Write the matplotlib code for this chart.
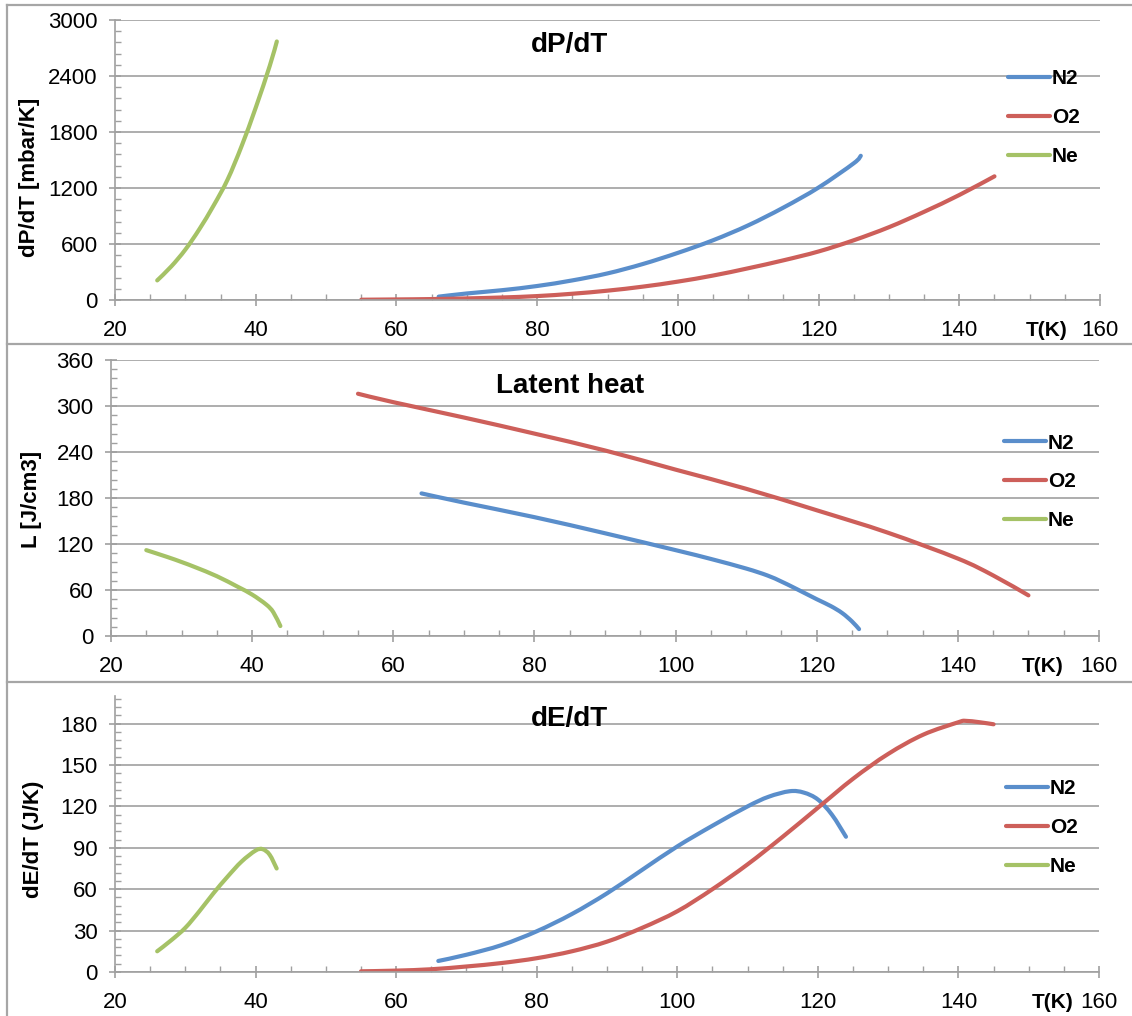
"""Saturation properties of N2, O2 and Ne vs temperature: dP/dT, latent heat, dE/dT."""

import matplotlib

matplotlib.use("Agg")
import matplotlib.pyplot as plt
import numpy as np
from matplotlib.lines import Line2D
from matplotlib.patches import PathPatch
from matplotlib.path import Path
from matplotlib.ticker import MultipleLocator

plt.rcParams["font.family"] = ["Liberation Sans", "DejaVu Sans"]

W, H = 1132, 1016

species = ["N2", "O2", "Ne"]
colors = ["#5A8ECB", "#CD5F5A", "#A5C266"]
x_ticks = [20, 40, 60, 80, 100, 120, 140, 160]

# dP/dT  [mbar/K]
dpdt_n2_t = [66, 70, 75, 80, 85, 90, 95, 100, 105, 110, 115, 120, 125, 126]
dpdt_n2 = [36, 70, 105, 150, 210, 285, 385, 505, 640, 800, 990, 1205, 1465, 1545]
dpdt_o2_t = [55, 60, 65, 70, 75, 80, 85, 90, 95, 100, 105, 110, 115, 120, 125,
             130, 135, 140, 145]
dpdt_o2 = [3, 6, 10, 17, 27, 42, 67, 100, 143, 197, 262, 340, 425, 520, 640,
           780, 945, 1125, 1325]
dpdt_ne_t = [26, 28, 30, 32, 34, 36, 38, 40, 42, 43]
dpdt_ne = [210, 360, 540, 760, 1010, 1290, 1650, 2060, 2510, 2770]

# latent heat  [J/cm3]
lat_n2_t = [64, 70, 80, 90, 100, 105, 110, 113, 115, 117, 120, 122, 123.6, 125,
            126]
lat_n2 = [186, 174, 155, 134, 112, 100.5, 88, 79, 71, 62, 48, 39, 30, 19, 9]
lat_o2_t = [55, 60, 70, 80, 90, 100, 110, 120, 130, 140, 145, 150]
lat_o2 = [316, 305, 285, 264, 242, 217, 192, 164, 135, 101, 79, 53]
lat_ne_t = [25, 28, 30, 32, 35, 38, 40, 42, 43, 44]
lat_ne = [112, 103, 96.5, 89.5, 78, 64, 54, 41, 31, 13]

# dE/dT  [J/K]
dedt_n2_t = [66, 70, 75, 80, 85, 90, 95, 100, 105, 110, 113, 116, 118, 120,
             122, 124]
dedt_n2 = [8, 12.5, 19.5, 29.5, 42, 57, 74, 91, 106, 120, 127, 131, 130, 125,
           114, 98]
dedt_o2_t = [55, 60, 65, 70, 75, 80, 85, 90, 95, 100, 105, 110, 115, 120, 125,
             130, 135, 140, 141, 143, 145]
dedt_o2 = [0.5, 1, 2, 4, 6.5, 10, 15, 22, 32, 44, 60, 78, 98, 119, 140, 158,
           172, 181, 182, 181, 179.5]
dedt_ne_t = [26, 28, 30, 32, 34, 36, 38, 40, 41, 42, 43]
dedt_ne = [15, 23, 32, 44, 57, 69, 80, 88, 89, 85, 75]

GRID = "#A0A0A0"
FRAME = "#A6A6A6"
LW = 3.0


def px_rect(left, top, right, bottom):
    return [left / W, 1 - bottom / H, (right - left) / W, (bottom - top) / H]


def smooth_path(t, v):
    """Cubic Bezier path through the points (spreadsheet-style smoothed line)."""
    p = np.column_stack([t, v]).astype(float)
    ext = np.vstack([p[0], p, p[-1]])
    verts = [p[0]]
    codes = [Path.MOVETO]
    for i in range(len(p) - 1):
        c1 = ext[i + 1] + (ext[i + 2] - ext[i]) / 6.0
        c2 = ext[i + 2] - (ext[i + 3] - ext[i + 1]) / 6.0
        verts += [c1, c2, p[i + 1]]
        codes += [Path.CURVE4] * 3
    return Path(verts, codes)


panels = [
    dict(rect=px_rect(115, 20, 1100, 300), ylim=3000, ymajor=600, yminor=120,
         title="dP/dT", title_xy=(570, 45), ylabel="dP/dT [mbar/K]",
         ylabel_xy=(30, 177), tk_xy=(1047, 331), leg=(0.9066, 0.824),
         series=[(dpdt_n2_t, dpdt_n2), (dpdt_o2_t, dpdt_o2), (dpdt_ne_t, dpdt_ne)]),
    dict(rect=px_rect(111, 360, 1099, 636), ylim=360, ymajor=60, yminor=12,
         title="Latent heat", title_xy=(570, 386), ylabel="L [J/cm3]",
         ylabel_xy=(32, 499), tk_xy=(1043, 666), leg=(0.904, 0.733),
         series=[(lat_n2_t, lat_n2), (lat_o2_t, lat_o2), (lat_ne_t, lat_ne)]),
    dict(rect=px_rect(115, 696, 1099, 972), ylim=200, ymajor=30, yminor=6,
         title="dE/dT", title_xy=(569, 719), ylabel="dE/dT (J/K)",
         ylabel_xy=(33, 839), tk_xy=(1053, 1002), leg=(0.9055, 0.698),
         series=[(dedt_n2_t, dedt_n2), (dedt_o2_t, dedt_o2), (dedt_ne_t, dedt_ne)]),
]

fig = plt.figure(figsize=(W / 100, H / 100), dpi=100)

for p in panels:
    ax = fig.add_axes(p["rect"])
    handles = []
    for (t, v), name, c in zip(p["series"], species, colors):
        patch = PathPatch(smooth_path(t, v), fill=False, edgecolor=c, lw=LW,
                          capstyle="round", joinstyle="round",
                          transform=ax.transData)
        ax.add_patch(patch)
        handles.append(Line2D([], [], color=c, lw=LW, solid_capstyle="round",
                              label=name))

    ax.set_xlim(20, 160)
    ax.set_ylim(0, p["ylim"])
    ax.set_xticks(x_ticks)
    ax.xaxis.set_minor_locator(MultipleLocator(5))
    ax.yaxis.set_major_locator(MultipleLocator(p["ymajor"]))
    ax.yaxis.set_minor_locator(MultipleLocator(p["yminor"]))
    ax.grid(axis="y", which="major", color=GRID, lw=1.2)
    ax.set_axisbelow(True)

    for side in ("top", "right"):
        ax.spines[side].set_visible(False)
    for side in ("left", "bottom"):
        ax.spines[side].set_color(GRID)
        ax.spines[side].set_linewidth(1.2)

    ax.tick_params(which="major", direction="inout", length=9, width=1.2,
                   color=GRID, labelsize=16, pad=10)
    ax.tick_params(axis="y", which="major", pad=8)
    ax.tick_params(which="minor", direction="in", length=4, width=1.0,
                   color=GRID)

    ax.legend(handles=handles, loc="upper left", bbox_to_anchor=p["leg"],
              frameon=False, borderaxespad=0, borderpad=0, handlelength=2.0,
              handletextpad=0.1, labelspacing=0.95,
              prop=dict(size=15, weight="bold"))

    tx, ty = p["title_xy"]
    fig.text(tx / W, 1 - ty / H, p["title"], ha="center", va="center",
             fontsize=20, fontweight="bold")
    lx, ly = p["ylabel_xy"]
    fig.text(lx / W, 1 - ly / H, p["ylabel"], ha="center", va="center",
             rotation=90, fontsize=16, fontweight="bold")
    kx, ky = p["tk_xy"]
    fig.text(kx / W, 1 - ky / H, "T(K)", ha="center", va="center",
             fontsize=15, fontweight="bold")

# panel frames
for y in (5, 344, 682):
    fig.add_artist(Line2D([7 / W, 1], [1 - y / H] * 2, color=FRAME, lw=1.6))
fig.add_artist(Line2D([7 / W] * 2, [0, 1 - 5 / H], color=FRAME, lw=1.6))

fig.savefig("out.png", dpi=100)
